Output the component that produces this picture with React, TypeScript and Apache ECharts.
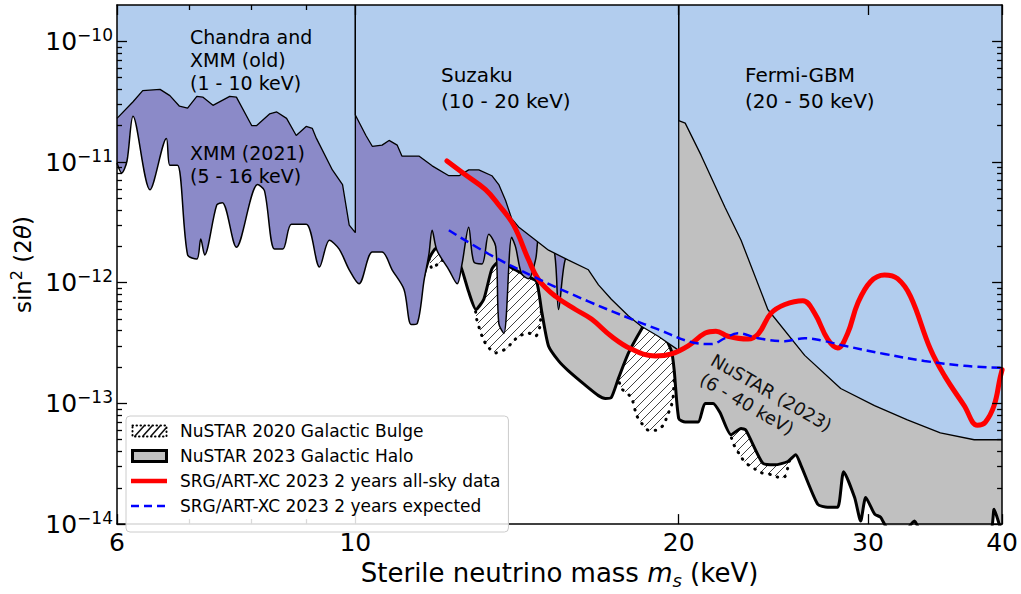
import React, { useEffect, useRef } from 'react';
import * as echarts from 'echarts';

const FONT = "'DejaVu Sans', Verdana, sans-serif";

// ---- data: x = sterile neutrino mass (keV), y = sin^2(2θ) ----
const X_MIN = 6;
const X_MAX = 40;
const Y_MIN = 1e-14;
const Y_MAX = 2e-10;

const chandraOld: number[][] = [
  [6.0, 2.3e-11], [6.21, 3.16e-11], [6.34, 3.9e-11], [6.58, 4.0e-11], [6.72, 3.55e-11],
  [6.86, 2.9e-11], [6.98, 2.8e-11], [7.12, 3.5e-11], [7.21, 3.45e-11], [7.37, 2.95e-11],
  [7.64, 3.5e-11], [7.75, 3.45e-11], [8.01, 2.0e-11], [8.09, 2.0e-11], [8.32, 2.5e-11],
  [8.45, 2.6e-11], [8.63, 2.3e-11], [8.81, 1.66e-11], [9.0, 1.97e-11], [9.12, 1.9e-11],
  [9.2, 1.57e-11], [9.52, 8.6e-12], [9.73, 6.5e-12], [9.87, 3.0e-12], [10.0, 2.6e-12],
  [10.0, 2e-10],
];

const suzaku: number[][] = [
  [10.0, 2e-10], [10.0, 2.45e-11], [10.23, 1.66e-11], [10.37, 1.35e-11], [10.59, 1.38e-11],
  [10.75, 1.51e-11], [10.94, 1.38e-11], [11.05, 1.12e-11], [11.46, 1.12e-11], [11.79, 9.3e-12],
  [12.22, 7.7e-12], [12.49, 7.7e-12], [12.75, 8.6e-12], [13.03, 8.6e-12], [13.4, 7.7e-12],
  [13.6, 6.5e-12], [13.8, 4.8e-12], [13.98, 3.4e-12], [14.19, 2.9e-12], [14.72, 2.25e-12],
  [15.13, 1.86e-12], [15.79, 1.54e-12], [16.48, 1.28e-12], [16.84, 9.6e-13], [17.31, 7.3e-13],
  [17.96, 5.3e-13], [18.46, 4.36e-13], [19.14, 3.6e-13], [20.0, 2.75e-13], [20.0, 2e-10],
];

const fermiGBM: number[][] = [
  [20.0, 2e-10], [20.0, 2.2e-11], [20.28, 2.1e-11], [20.98, 1.14e-11], [22.09, 4.2e-12],
  [22.86, 2.25e-12], [24.21, 6.0e-13], [26.2, 2.5e-13], [28.3, 1.33e-13], [30.43, 9.6e-14],
  [32.65, 7.3e-14], [35.04, 5.7e-14], [37.68, 5.0e-14], [40.0, 5.0e-14],
];

const xmm2021Lower: number[][] = [
  [6.0, 9.8e-12], [6.06, 8.1e-12], [6.13, 1.02e-11], [6.21, 2.4e-11], [6.44, 5.9e-12],
  [6.67, 1.57e-11], [6.72, 9.4e-12], [6.83, 9.4e-12], [6.98, 1.7e-12], [7.12, 1.57e-12],
  [7.18, 2.3e-12], [7.24, 1.7e-12], [7.43, 4.4e-12], [7.52, 4.6e-12], [7.75, 1.97e-12],
  [8.11, 6.5e-12], [8.23, 5.8e-12], [8.41, 1.9e-12], [8.56, 1.9e-12], [8.72, 3.05e-12],
  [9.0, 3.05e-12], [9.26, 1.35e-12], [9.46, 2.25e-12], [9.66, 1.9e-12], [9.87, 1.28e-12],
  [10.08, 9.8e-13], [10.37, 1.8e-12], [10.59, 1.8e-12], [10.82, 1.28e-12], [11.1, 8.8e-13],
  [11.27, 4.5e-13], [11.42, 4.6e-13], [11.59, 1.06e-12], [11.71, 1.73e-12], [11.79, 2.72e-12],
  [11.91, 1.86e-12], [12.22, 1.28e-12], [12.44, 9.8e-13], [12.57, 1.43e-12], [12.75, 2.88e-12],
  [12.89, 1.49e-12], [13.12, 1.43e-12], [13.31, 2.52e-12], [13.51, 2.0e-12], [13.6, 4.6e-13],
  [13.75, 3.8e-13], [13.98, 2.38e-12], [14.1, 1.97e-12], [14.28, 1.19e-12], [14.5, 1.08e-12],
  [14.72, 1.57e-12], [14.85, 2.5e-12], [15.29, 2.0e-12], [15.46, 6.0e-13], [15.69, 1.57e-12],
  [15.89, 1.6e-12],
];

const nustar2023Lower: number[][] = [
  [11.54, 1.02e-12], [11.71, 1.57e-12], [11.86, 1.9e-12], [12.09, 2.05e-12], [12.28, 1.8e-12],
  [12.54, 1.35e-12], [12.75, 8.4e-13], [12.95, 6.0e-13], [13.17, 7.3e-13], [13.4, 1.3e-12],
  [13.6, 1.49e-12], [13.83, 1.41e-12], [14.04, 1.3e-12], [14.5, 1.12e-12], [14.75, 1.02e-12],
  [14.91, 5.8e-13], [15.13, 2.99e-13], [15.46, 2.25e-13], [15.79, 1.86e-13], [16.38, 1.41e-13],
  [16.84, 1.16e-13], [17.09, 1.1e-13], [17.31, 1.12e-13], [17.57, 1.6e-13], [17.96, 2.62e-13],
  [18.46, 4.1e-13], [18.74, 5.0e-13], [19.14, 4.5e-13], [19.69, 2.72e-13], [19.81, 1.86e-13],
  [20.0, 7.5e-14], [20.28, 7.0e-14], [20.85, 7.0e-14], [21.16, 1.0e-13], [21.53, 1.0e-13],
  [21.85, 8.4e-14], [22.37, 5.5e-14], [22.86, 6.2e-14], [23.1, 6.0e-14], [23.95, 3.2e-14],
  [24.57, 3.1e-14], [25.27, 3.3e-14], [25.7, 3.75e-14], [25.98, 3.1e-14], [26.94, 1.46e-14],
  [27.52, 1.38e-14], [28.12, 1.38e-14], [28.48, 2.72e-14], [29.16, 1.66e-14], [29.54, 1.06e-14],
  [29.86, 1.66e-14], [30.44, 1.21e-14], [30.83, 1.14e-14], [31.3, 9.1e-15], [32.31, 8.3e-15],
  [33.15, 1.06e-14], [33.72, 8.3e-15], [36.34, 8.3e-15], [38.99, 8.6e-15], [39.32, 1.33e-14],
  [39.75, 1.0e-14], [40.0, 8.3e-15],
];

const nustar2020Lower: number[][] = [
  [11.71, 1.57e-12], [11.79, 1.3e-12], [11.91, 1.41e-12], [12.04, 1.51e-12], [12.17, 1.83e-12],
  [12.35, 1.97e-12], [12.62, 1.57e-12], [12.92, 6.4e-13], [12.97, 5.0e-13], [13.12, 3.6e-13],
  [13.26, 3.0e-13], [13.51, 2.62e-13], [13.8, 2.82e-13], [13.98, 3.16e-13], [14.19, 3.6e-13],
  [14.5, 3.82e-13], [14.72, 3.6e-13], [14.85, 4.3e-13], [14.97, 7.7e-13], [15.46, 4.36e-13],
  [16.38, 2.47e-13], [17.21, 1.7e-13], [17.5, 1.7e-13], [17.69, 1.33e-13], [18.07, 1.12e-13],
  [18.27, 8.0e-14], [18.46, 6.9e-14], [18.74, 6.0e-14], [19.06, 6.0e-14], [19.35, 6.6e-14],
  [19.56, 8.3e-14], [19.69, 9.6e-14], [19.77, 1.16e-13], [19.85, 2.25e-13], [20.0, 1.7e-13],
  [20.85, 9.6e-14], [21.53, 1.28e-13], [22.23, 6.6e-14], [22.47, 4.7e-14], [22.86, 3.6e-14],
  [23.1, 3.2e-14], [23.45, 2.93e-14], [23.85, 2.67e-14], [24.37, 2.57e-14], [24.84, 2.43e-14],
  [25.11, 2.47e-14], [25.27, 2.93e-14], [25.43, 3.6e-14], [25.81, 4.1e-14],
];

const artxcData: number[][] = [
  [12.17, 1.02e-11], [12.67, 7.8e-12], [13.22, 5.9e-12], [13.6, 4.4e-12], [14.04, 3.0e-12],
  [14.5, 1.54e-12], [14.81, 1.06e-12], [15.36, 7.7e-13], [16.03, 6.0e-13], [16.59, 5.0e-13],
  [17.31, 3.6e-13], [18.07, 2.82e-13], [19.02, 2.47e-13], [19.69, 2.57e-13], [20.41, 3.0e-13],
  [21.16, 3.82e-13], [21.66, 3.97e-13], [22.23, 3.6e-13], [23.2, 3.41e-13], [23.71, 3.75e-13],
  [24.37, 5.57e-13], [25.11, 6.6e-13], [26.1, 7.1e-13], [26.77, 5.57e-13], [27.52, 3.41e-13],
  [28.12, 2.88e-13], [28.73, 3.82e-13], [29.35, 6.73e-13], [30.17, 1.02e-12], [31.09, 1.16e-12],
  [31.97, 1.08e-12], [32.87, 7.7e-13], [34.3, 2.82e-13], [35.35, 1.7e-13], [36.88, 9.6e-14],
  [37.93, 6.6e-14], [38.58, 6.98e-14], [39.32, 9.6e-14], [39.83, 1.63e-13], [40.0, 1.9e-13],
];

const artxcExpected: number[][] = [
  [12.22, 2.72e-12], [13.31, 1.73e-12], [14.72, 1.1e-12], [16.48, 7.0e-13], [18.07, 5.0e-13],
  [19.14, 4.1e-13], [20.55, 3.22e-13], [21.44, 3.1e-13], [22.09, 3.47e-13], [22.7, 3.82e-13],
  [23.71, 3.47e-13], [25.11, 3.28e-13], [26.2, 3.47e-13], [27.35, 3.28e-13], [28.54, 3.0e-13],
  [31.09, 2.57e-13], [33.86, 2.25e-13], [36.88, 2.05e-13], [40.0, 1.97e-13],
];

const xMajorTicks = [6, 10, 20, 30, 40];
const xMinorTicks = [7, 8, 9];
const yMajorTicks = [1e-14, 1e-13, 1e-12, 1e-11, 1e-10];
const yMinorTicks = [
  2e-14, 3e-14, 4e-14, 5e-14, 6e-14, 7e-14, 8e-14, 9e-14,
  2e-13, 3e-13, 4e-13, 5e-13, 6e-13, 7e-13, 8e-13, 9e-13,
  2e-12, 3e-12, 4e-12, 5e-12, 6e-12, 7e-12, 8e-12, 9e-12,
  2e-11, 3e-11, 4e-11, 5e-11, 6e-11, 7e-11, 8e-11, 9e-11,
];

const NAME_BULGE = 'NuSTAR 2020 Galactic Bulge';
const NAME_HALO = 'NuSTAR 2023 Galactic Halo';
const NAME_DATA = 'SRG/ART-XC 2023 2 years all-sky data';
const NAME_EXP = 'SRG/ART-XC 2023 2 years expected';

const C_BLUE = '#b2cdee';
const C_PURPLE = '#8b8ac8';
const C_GRAY = '#c0c0c0';

const svgUrl = (s: string) => 'data:image/svg+xml;charset=utf-8,' + encodeURIComponent(s);

const HATCH_TILE = svgUrl(
  "<svg xmlns='http://www.w3.org/2000/svg' width='9' height='9' viewBox='0 0 9 9'>" +
  "<path d='M-1 10 L10 -1 M-1 1 L1 -1 M8 10 L10 8' stroke='#111' stroke-width='0.8' fill='none'/></svg>"
);

const ICON_BULGE = 'image://' + svgUrl(
  "<svg xmlns='http://www.w3.org/2000/svg' width='44' height='14' viewBox='0 0 44 14'>" +
  "<path d='M4 12 L13 2 M12 12 L21 2 M20 12 L29 2 M28 12 L35 4' stroke='#111' stroke-width='1.6' fill='none'/>" +
  "<rect x='1.5' y='1.5' width='34' height='11' fill='none' stroke='#000' stroke-width='2' stroke-dasharray='0.5 3.5' stroke-linecap='round'/></svg>"
);
const ICON_HALO = 'image://' + svgUrl(
  "<svg xmlns='http://www.w3.org/2000/svg' width='44' height='14' viewBox='0 0 44 14'>" +
  "<rect x='1.5' y='1.5' width='34' height='11' fill='#c0c0c0' stroke='#000' stroke-width='3'/></svg>"
);
const ICON_DATA = 'image://' + svgUrl(
  "<svg xmlns='http://www.w3.org/2000/svg' width='44' height='14' viewBox='0 0 44 14'>" +
  "<line x1='0' y1='7' x2='36' y2='7' stroke='#ff0000' stroke-width='4.5'/></svg>"
);
const ICON_EXP = 'image://' + svgUrl(
  "<svg xmlns='http://www.w3.org/2000/svg' width='44' height='14' viewBox='0 0 44 14'>" +
  "<line x1='0' y1='7' x2='36' y2='7' stroke='#0000ff' stroke-width='2.5' stroke-dasharray='8 5'/></svg>"
);

function buildOption(): any {
  const tickLine = { color: '#000', width: 1.3 };
  const frameLine = { show: true, onZero: false, lineStyle: { color: '#000', width: 1.5 } };
  const baseX = {
    type: 'log', logBase: 10, min: X_MIN, max: X_MAX, z: 10,
    splitLine: { show: false }, minorTick: { show: false }, minorSplitLine: { show: false },
  };
  const baseY = {
    type: 'log', logBase: 10, min: Y_MIN, max: Y_MAX, z: 10,
    splitLine: { show: false }, minorTick: { show: false }, minorSplitLine: { show: false },
  };
  const xMinor = (pos: string) => ({
    ...baseX, position: pos, axisLine: { show: false },
    axisTick: { show: true, inside: true, length: 5, lineStyle: tickLine, customValues: xMinorTicks },
    axisLabel: { show: false },
  });
  const yMinor = (pos: string) => ({
    ...baseY, position: pos, axisLine: { show: false },
    axisTick: { show: true, inside: true, length: 5, lineStyle: tickLine, customValues: yMinorTicks },
    axisLabel: { show: false },
  });

  const areaSeries = (name: string, data: number[][], color: any, z: number, lineStyle: any, smooth: number | boolean) => ({
    type: 'line', name, data, z, symbol: 'none', showSymbol: false, smooth, silent: true,
    xAxisIndex: 0, yAxisIndex: 0, clip: true,
    lineStyle, areaStyle: { color, origin: 'end', opacity: 1 },
  });

  return {
    animation: false,
    backgroundColor: '#ffffff',
    grid: { left: 117, right: 16, top: 5, bottom: 64, containLabel: false },
    xAxis: [
      {
        ...baseX, position: 'bottom', axisLine: frameLine,
        axisTick: { show: true, inside: true, length: 10, lineStyle: tickLine, customValues: xMajorTicks },
        axisLabel: {
          show: true, customValues: xMajorTicks, formatter: (v: number) => String(Math.round(v)),
          fontSize: 25, fontFamily: FONT, color: '#000', margin: 6,
        },
        name: '{t|Sterile neutrino mass }{i|m}{sub|s}{t| (keV)}',
        nameLocation: 'middle', nameGap: 30,
        nameTextStyle: {
          rich: {
            t: { fontSize: 26, fontFamily: FONT, color: '#000', lineHeight: 32 },
            i: { fontSize: 26, fontFamily: FONT, fontStyle: 'italic', color: '#000', lineHeight: 32 },
            sub: { fontSize: 18, fontFamily: FONT, fontStyle: 'italic', color: '#000', lineHeight: 17, verticalAlign: 'bottom' },
          },
        },
      },
      xMinor('bottom'),
      {
        ...baseX, position: 'top', axisLine: frameLine,
        axisTick: { show: true, inside: true, length: 10, lineStyle: tickLine, customValues: xMajorTicks },
        axisLabel: { show: false },
      },
      xMinor('top'),
    ],
    yAxis: [
      {
        ...baseY, position: 'left', axisLine: frameLine,
        axisTick: { show: true, inside: true, length: 10, lineStyle: tickLine, customValues: yMajorTicks },
        axisLabel: {
          show: true, customValues: yMajorTicks, margin: 4,
          formatter: (v: number) => '{b|10}{s|\u2212' + Math.round(-Math.log10(v)) + '}',
          rich: {
            b: { fontSize: 25, fontFamily: FONT, color: '#000', lineHeight: 30, verticalAlign: 'middle' },
            s: { fontSize: 17, fontFamily: FONT, color: '#000', lineHeight: 16, verticalAlign: 'top' },
          },
        },
        name: '{a|sin}{s|2}{a| (2}{i|\u03b8}{a|)}',
        nameLocation: 'middle', nameGap: 76, nameRotate: 90,
        nameTextStyle: {
          rich: {
            a: { fontSize: 23, fontFamily: FONT, color: '#000', lineHeight: 28 },
            s: { fontSize: 16, fontFamily: FONT, color: '#000', lineHeight: 16, verticalAlign: 'top' },
            i: { fontSize: 23, fontFamily: FONT, fontStyle: 'italic', color: '#000', lineHeight: 28 },
          },
        },
      },
      yMinor('left'),
      {
        ...baseY, position: 'right', axisLine: frameLine,
        axisTick: { show: true, inside: true, length: 10, lineStyle: tickLine, customValues: yMajorTicks },
        axisLabel: { show: false },
      },
      yMinor('right'),
    ],
    legend: {
      show: true, orient: 'vertical', left: 126, top: 416, z: 20,
      padding: [6, 8, 17, 5], itemGap: 7, itemWidth: 44, itemHeight: 14,
      backgroundColor: 'rgba(255,255,255,0.85)', borderColor: '#cccccc', borderWidth: 1, borderRadius: 4,
      textStyle: { fontSize: 17, fontFamily: FONT, color: '#000', lineHeight: 18 },
      selectedMode: false,
      data: [
        { name: NAME_BULGE, icon: ICON_BULGE },
        { name: NAME_HALO, icon: ICON_HALO },
        { name: NAME_DATA, icon: ICON_DATA },
        { name: NAME_EXP, icon: ICON_EXP },
      ],
    },
    graphic: [
      {
        type: 'text', x: 190, y: 25, z: 30, silent: true,
        style: { text: 'Chandra and\nXMM (old)\n(1 - 10 keV)', fontSize: 19, fontFamily: FONT, fill: '#000', lineHeight: 23, align: 'left', verticalAlign: 'top' },
      },
      {
        type: 'text', x: 190, y: 141, z: 30, silent: true,
        style: { text: 'XMM (2021)\n(5 - 16 keV)', fontSize: 19, fontFamily: FONT, fill: '#000', lineHeight: 23, align: 'left', verticalAlign: 'top' },
      },
      {
        type: 'text', x: 441, y: 62, z: 30, silent: true,
        style: { text: 'Suzaku\n(10 - 20 keV)', fontSize: 20, fontFamily: FONT, fill: '#000', lineHeight: 26, align: 'left', verticalAlign: 'top' },
      },
      {
        type: 'text', x: 745, y: 62, z: 30, silent: true,
        style: { text: 'Fermi-GBM\n(20 - 50 keV)', fontSize: 20, fontFamily: FONT, fill: '#000', lineHeight: 26, align: 'left', verticalAlign: 'top' },
      },
      {
        type: 'text', x: 718, y: 349, z: 30, silent: true, rotation: -Math.PI / 6,
        style: { text: 'NuSTAR (2023)\n(6 - 40 keV)', fontSize: 18, fontFamily: FONT, fill: '#111', lineHeight: 22, align: 'left', verticalAlign: 'top' },
      },
    ],
    series: [
      areaSeries(NAME_BULGE, nustar2020Lower, { image: HATCH_TILE, repeat: 'repeat', imageWidth: 9, imageHeight: 9 }, 1,
        { color: '#000', width: 3, type: [0.5, 7.5], cap: 'round' }, 0.2),
      areaSeries(NAME_HALO, nustar2023Lower, C_GRAY, 2, { color: '#000', width: 3, join: 'round' }, 0.2),
      areaSeries('XMM 2021', xmm2021Lower, C_PURPLE, 3, { color: '#000', width: 1.5 }, 0.3),
      areaSeries('Chandra and XMM (old)', chandraOld, C_BLUE, 4, { color: '#000', width: 1.3 }, false),
      areaSeries('Suzaku', suzaku, C_BLUE, 4, { color: '#000', width: 1.3 }, false),
      areaSeries('Fermi-GBM', fermiGBM, C_BLUE, 4, { color: '#000', width: 1.3 }, false),
      {
        type: 'line', name: NAME_DATA, data: artxcData, z: 6, symbol: 'none', smooth: 0.4, silent: true,
        lineStyle: { color: '#ff0000', width: 5, cap: 'round', join: 'round' },
      },
      {
        type: 'line', name: NAME_EXP, data: artxcExpected, z: 7, symbol: 'none', smooth: 0.4, silent: true,
        lineStyle: { color: '#0000ff', width: 2.5, type: [9, 5] },
      },
    ],
  };
}

export default function App() {
  const ref = useRef<HTMLDivElement>(null);
  useEffect(() => {
    document.body.style.margin = '0';
    if (!ref.current) return;
    const chart = echarts.init(ref.current, undefined, { renderer: 'svg', width: 1021, height: 594 });
    chart.setOption(buildOption());
    return () => chart.dispose();
  }, []);
  return (
    <div
      ref={ref}
      style={{ position: 'absolute', left: 0, top: 0, width: 1021, height: 594, background: '#fff' }}
    />
  );
}
